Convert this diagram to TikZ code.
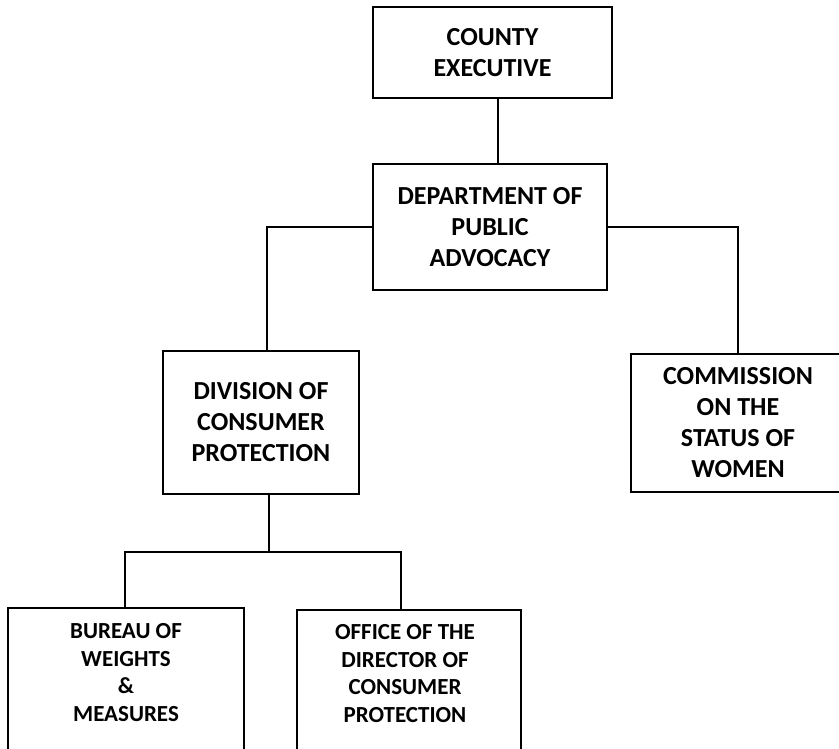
\documentclass[tikz,border=0pt]{standalone}
\usepackage{fontspec}
\setmainfont{Carlito}
\begin{document}
\begin{tikzpicture}[x=1pt,y=-1pt,
  unitbox/.style={draw, line width=1.8pt, rectangle, inner sep=0pt},
  unit/.style={unitbox, align=center, font=\bfseries\fontsize{26}{31}\selectfont},
  smalltext/.style={inner sep=0pt, align=center, font=\bfseries\fontsize{23}{27.5}\selectfont},
  link/.style={line width=1.5pt}]
\useasboundingbox (0,0) rectangle (839,749);
\clip (0,0) rectangle (839,749);

% upper levels
\node[unit, minimum width=239pt, minimum height=91pt] (ce) at (492.5,52.5) {COUNTY\\EXECUTIVE};
\node[unit, minimum width=234pt, minimum height=126pt] (dpa) at (490,227) {DEPARTMENT OF\\PUBLIC\\ADVOCACY};
\node[unit, minimum width=196pt, minimum height=143pt] (dcp) at (261,422.5) {DIVISION OF\\CONSUMER\\PROTECTION};
\node[unit, minimum width=214pt, minimum height=138pt] (csw) at (738,423) {COMMISSION\\ON THE\\STATUS OF\\WOMEN};

% bottom level (boxes run past the lower edge)
\node[unitbox, minimum width=236pt, minimum height=170pt, anchor=north] (bwm) at (126,607) {};
\node[smalltext] (bwmt) at (126,672.5) {BUREAU OF\\WEIGHTS\\\&\\MEASURES};
\node[unitbox, minimum width=224pt, minimum height=170pt, anchor=north] (odc) at (409,609) {};
\node[smalltext] (odct) at (405,673.5) {OFFICE OF THE\\DIRECTOR OF\\CONSUMER\\PROTECTION};

% connector guide points
\coordinate (cx) at (498,0);
\coordinate (jl) at (267,0);
\coordinate (jd) at (269,552);
\coordinate (jo) at (401,0);
\coordinate (jb) at (125,0);

% connectors
\draw[link] (ce.south -| cx) -- (dpa.north -| cx);
\draw[link] (dpa.west) -| (jl |- dcp.north);
\draw[link] (dpa.east) -| (csw.north);
\draw[link] (dcp.south -| jd) -- (jd);
\draw[link] (jb |- bwm.north) |- (jd) -| (jo |- odc.north);
\end{tikzpicture}
\end{document}
